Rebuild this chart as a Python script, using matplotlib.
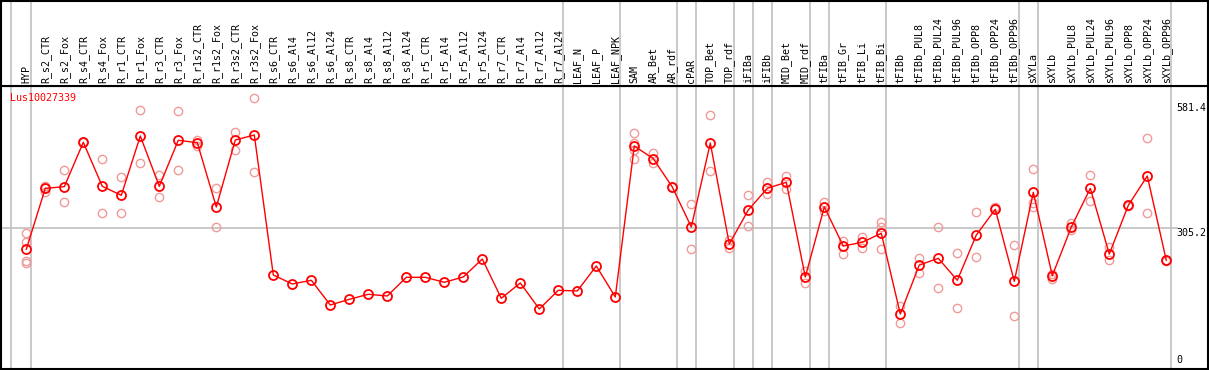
from matplotlib import pyplot as plt
import numpy as np

categories = [
    "HYP", "R_s2_CTR", "R_s2_Fox", "R_s4_CTR", "R_s4_Fox", "R_r1_CTR", "R_r1_Fox",
    "R_r3_CTR", "R_r3_Fox", "R_r1s2_CTR", "R_r1s2_Fox", "R_r3s2_CTR", "R_r3s2_Fox",
    "R_s6_CTR", "R_s6_Al4", "R_s6_Al12", "R_s6_Al24", "R_s8_CTR", "R_s8_Al4",
    "R_s8_Al12", "R_s8_Al24", "R_r5_CTR", "R_r5_Al4", "R_r5_Al12", "R_r5_Al24",
    "R_r7_CTR", "R_r7_Al4", "R_r7_Al12", "R_r7_Al24", "LEAF_N", "LEAF_P", "LEAF_NPK",
    "SAM", "AR_Bet", "AR_rdf", "cPAR", "TOP_Bet", "TOP_rdf", "iFIBa", "iFIBb",
    "MID_Bet", "MID_rdf", "tFIBa", "tFIB_Gr", "tFIB_Li", "tFIB_Bi", "tFIBb",
    "tFIBb_PUL8", "tFIBb_PUL24", "tFIBb_PUL96", "tFIBb_OPP8", "tFIBb_OPP24",
    "tFIBb_OPP96", "sXYLa", "sXYLb", "sXYLb_PUL8", "sXYLb_PUL24", "sXYLb_PUL96",
    "sXYLb_OPP8", "sXYLb_OPP24", "sXYLb_OPP96",
]

means = [
    259.1, 393.2, 396.8, 494.4, 397.6, 377.8, 508.2, 397.6, 498.8, 493.5, 352.1,
    499.5, 510.4, 202.6, 182.8, 190.9, 136.6, 149.1, 160.1, 156.4, 197.5, 197.5,
    186.5, 198.2, 237.7, 151.3, 185.0, 127.8, 168.9, 167.4, 222.3, 154.2, 486.3,
    458.3, 396.1, 308.1, 492.8, 270.7, 345.5, 393.2, 406.4, 198.2, 352.1, 266.3,
    274.5, 294.3, 116.8, 224.5, 239.2, 190.9, 290.5, 347.0, 188.7, 384.4, 201.1,
    308.1, 393.2, 248.7, 355.8, 420.3, 234.8,
]

replicates = [
    [294.0, 274.5, 234.0, 229.6], [398.0, 385.7, 393.0], [432.8, 362.4], [494.0, 496.0],
    [457.0, 338.2], [417.4, 338.2], [564.8, 448.9], [422.5, 373.4], [562.6, 432.8],
    [498.8, 486.3], [393.2, 308.1], [517.0, 478.1], [591.2, 428.4],
    [], [], [], [], [], [], [], [], [], [], [], [], [], [], [], [], [], [], [],
    [514.2, 492.2, 477.5, 457.0], [471.5, 448.2], [397.0, 395.0], [358.0, 259.1],
    [554.4, 430.6], [279.5, 262.6], [377.8, 310.3], [407.1, 380.0], [420.3, 391.0],
    [211.3, 184.3], [363.1, 344.0], [277.3, 248.7], [286.1, 261.3],
    [318.4, 308.8, 259.1], [135.0, 96.3], [239.2, 206.2], [307.4, 173.3],
    [250.9, 129.3], [340.4, 242.0], [352.8, 349.0], [268.5, 111.7],
    [435.7, 360.2, 352.8], [205.4, 193.1], [317.6, 301.5], [421.8, 364.6],
    [264.8, 235.5], [357.0, 354.0], [503.2, 338.2], [236.0, 234.0],
]

gene = "Lus10027339"
ytick_vals = [581.4, 305.2, 0]
group_ends = [0, 28, 31, 34, 35, 37, 38, 39, 41, 42, 45, 52, 53, 60]

W, H = 1209, 370
fig = plt.figure(figsize=(W / 100, H / 100), dpi=100)
font = dict(family="DejaVu Sans Mono", fontsize=7.2)

# pixel layout of the original
x0, dx = 26.3, 19.0
xlim = ((1 - x0) / dx, (1208 - x0) / dx)
y_zero, px_unit = 367.1, 0.4547
header_px = 85.7
ylim = ((y_zero - 369) / px_unit, (y_zero - header_px) / px_unit)

ax = fig.add_axes([1 / W, 1 / H, 1207 / W, (369 - header_px) / H])
hd = fig.add_axes([1 / W, (H - header_px) / H, 1207 / W, (header_px - 1) / H])

x = np.arange(len(categories))
seps = [-0.805] + [g + 0.23 for g in group_ends]
for a in (ax, hd):
    a.set_xlim(*xlim)
    for s in seps:
        a.axvline(s, color="#c0c0c0", lw=1.2, zorder=0)
    a.set_xticks([])
    a.set_yticks([])
    for sp in a.spines.values():
        sp.set_linewidth(1.5)
        sp.set_color("black")

ax.set_ylim(*ylim)
hd.set_ylim(0, 1)

ax.hlines(305.2, xlim[0], 60.6, color="#c0c0c0", lw=1.2, zorder=0)

for i, reps in enumerate(replicates):
    if reps:
        ax.plot([i] * len(reps), reps, "o", ms=6, mfc="none", mec="#f09a9a",
                mew=1.0, zorder=2)
ax.plot(x, means, "-", color="red", lw=1.0, zorder=3)
ax.plot(x, means, "o", ms=6.5, mfc="none", mec="red", mew=1.3, zorder=4)

for i, name in enumerate(categories):
    hd.text(i, 0.03, name, rotation=90, ha="center", va="bottom", **font)

ax.text(9 / W, 1 - 7 / (369 - header_px), gene, transform=ax.transAxes,
        color="red", ha="left", va="top", **font)

tx = ax.get_yaxis_transform()
for v in ytick_vals:
    if v == 0:
        ax.text(1177 / W, 0.015, "0", transform=ax.transAxes, ha="left", va="bottom", **font)
    else:
        ax.text(1177 / W, v, f"{v:.1f}", transform=tx, ha="left", va="top", **font)

fig.savefig("out.png", dpi=100)
